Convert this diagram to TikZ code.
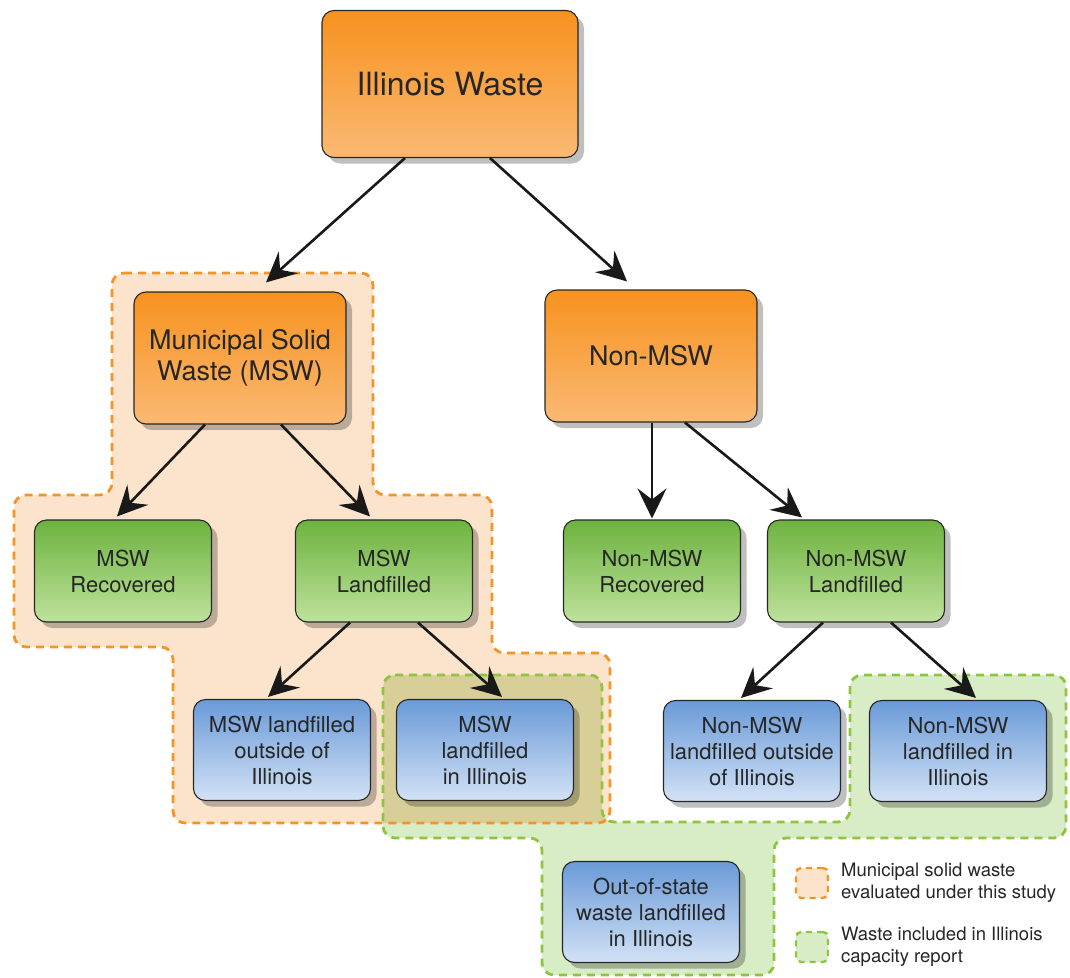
\documentclass[tikz,border=0pt]{standalone}
\usepackage{fontspec}
\setmainfont{TeX Gyre Heros}
\usetikzlibrary{arrows.meta,shadows,calc}
\definecolor{textc}{HTML}{262626}
\definecolor{orA}{HTML}{F7921E}
\definecolor{orB}{HTML}{FAB973}
\definecolor{grA}{HTML}{6CB33E}
\definecolor{grB}{HTML}{BFE29C}
\definecolor{blA}{HTML}{6A9AD8}
\definecolor{blB}{HTML}{D2E2F5}
\definecolor{orfill}{HTML}{FCE4CC}
\definecolor{grfill}{HTML}{D8ECC6}
\definecolor{olfill}{HTML}{D8CF98}
\definecolor{ordash}{HTML}{F39425}
\definecolor{grdash}{HTML}{8CC63E}
\begin{document}
\begin{tikzpicture}[x=1pt,y=-1pt,
  box/.style={draw=black!85, line width=1.1pt, rounded corners=12pt, align=center, text=textc, inner sep=2pt,
    drop shadow={shadow xshift=6pt, shadow yshift=-6pt, fill=black, opacity=0.25}},
  orbox/.style={box, top color=orA, bottom color=orB},
  grbox/.style={box, top color=grA, bottom color=grB, minimum width=177pt, minimum height=102pt,
    font=\fontsize{22}{26}\selectfont},
  blbox/.style={box, top color=blA, bottom color=blB, minimum width=177pt, minimum height=101pt,
    font=\fontsize{22}{26}\selectfont},
  arr/.style={line width=2.6pt, black!90, -{Stealth[length=30pt,width=29pt,inset=11pt]}},
  region/.style={rounded corners=12pt},
  ordashed/.style={draw=ordash, line width=2.8pt, dash pattern=on 8pt off 6pt},
  grdashed/.style={draw=grdash, line width=2.8pt, dash pattern=on 8pt off 6pt},
  legbox/.style={minimum width=32pt, minimum height=30pt, rounded corners=5pt, line width=2.4pt, dash pattern=on 6pt off 5pt},
  legtext/.style={align=left, text=textc, font=\fontsize{18.5}{21.5}\selectfont, inner sep=0pt}
]
\useasboundingbox (0,0) rectangle (1070,977);
\def\orpoly{(112,273) -- (373,273) -- (373,495) -- (492,495) -- (492,653) -- (610,653) -- (610,823) -- (173,823) -- (173,647) -- (14,647) -- (14,495) -- (112,495) -- cycle}
\def\grpoly{(383,675) -- (602,675) -- (602,822) -- (850,822) -- (850,675) -- (1066,675) -- (1066,838) -- (774,838) -- (774,975) -- (542,975) -- (542,838) -- (383,838) -- cycle}
% region fills
\fill[grfill, region] \grpoly;
\fill[orfill, region] \orpoly;
\begin{scope}
  \clip[region] \orpoly;
  \fill[olfill, region] \grpoly;
\end{scope}
\draw[ordashed, region] \orpoly;
\draw[grdashed, region] \grpoly;

% nodes
\node[orbox, minimum width=256pt, minimum height=147pt, font=\fontsize{32}{38}\selectfont] (iw) at (450,84) {Illinois Waste};
\node[orbox, minimum width=212pt, minimum height=132pt, font=\fontsize{27}{31}\selectfont] (msw) at (240,358) {Municipal Solid\\Waste (MSW)};
\node[orbox, minimum width=212pt, minimum height=132pt, font=\fontsize{27}{31}\selectfont] (nmsw) at (651,356) {Non-MSW};

\node[grbox] (mrec) at (123,571) {MSW\\Recovered};
\node[grbox] (mland) at (384,571) {MSW\\Landfilled};
\node[grbox] (nmrec) at (652,571) {Non-MSW\\Recovered};
\node[grbox] (nmland) at (856,571) {Non-MSW\\Landfilled};

\node[blbox] (mout) at (282,750) {MSW landfilled\\outside of\\Illinois};
\node[blbox] (min) at (485,750) {MSW\\landfilled\\in Illinois};
\node[blbox] (nmout) at (752,751) {Non-MSW\\landfilled outside\\of Illinois};
\node[blbox] (nmin) at (958,751) {Non-MSW\\landfilled in\\Illinois};
\node[blbox] (oos) at (651,912) {Out-of-state\\waste landfilled\\in Illinois};

% arrows
\draw[arr] ([xshift=-45pt]iw.south) -- ([xshift=26pt,yshift=9pt]msw.north);
\draw[arr] ([xshift=40pt]iw.south) -- ([xshift=-24pt,yshift=8pt]nmsw.north);
\draw[arr] ([xshift=-35pt]msw.south) -- ([xshift=-6pt,yshift=3pt]mrec.north);
\draw[arr] ([xshift=41pt]msw.south) -- ([xshift=-14pt,yshift=3pt]mland.north);
\draw[arr] ([xshift=1pt]nmsw.south) -- ([yshift=1pt]nmrec.north);
\draw[arr] ([xshift=34pt]nmsw.south) -- ([xshift=-54pt,yshift=2pt]nmland.north);
\draw[arr] ([xshift=-34pt]mland.south) -- ([xshift=-14pt,yshift=2pt]mout.north);
\draw[arr] ([xshift=34pt]mland.south) -- ([xshift=17pt,yshift=2pt]min.north);
\draw[arr] ([xshift=-33pt]nmland.south) -- ([xshift=-11pt,yshift=2pt]nmout.north);
\draw[arr] ([xshift=35pt]nmland.south) -- ([xshift=18pt,yshift=2pt]nmin.north);

% legend
\node[legbox, fill=orfill, draw=ordash] (lo) at (812,883) {};
\node[legtext, anchor=west] (lot) at (841,883) {Municipal solid waste\\evaluated under this study};
\node[legbox, fill=grfill, draw=grdash] (lg) at (812,947) {};
\node[legtext, anchor=west] (lgt) at (841,947) {Waste included in Illinois\\capacity report};
\end{tikzpicture}
\end{document}
